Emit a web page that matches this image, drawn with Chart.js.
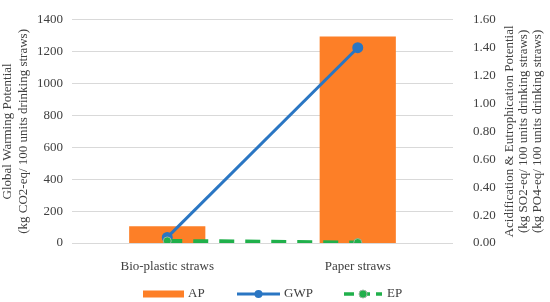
<!DOCTYPE html>
<html lang="en">
<head>
  <meta charset="UTF-8">
  <title>Straws impact</title>
  <script src="https://cdn.jsdelivr.net/npm/chart.js"></script>
  <style>
    body { margin: 0; padding: 0; background: #ffffff; }
    .chart-wrapper { width: 550px; height: 302px; position: relative; }
  </style>
</head>
<body>
  <div class="chart-wrapper">
    <canvas id="strawChart"></canvas>
  </div>

  <script>
    // data
    const categories = ['Bio-plastic straws', 'Paper straws'];
    const apValues = [0.12, 1.48];      // right axis
    const gwpValues = [35, 1225];       // left axis
    const epValues = [0.015, 0.003];    // right axis

    const leftTicks = [0, 200, 400, 600, 800, 1000, 1200, 1400];
    const rightTicks = [0, 0.2, 0.4, 0.6, 0.8, 1.0, 1.2, 1.4, 1.6];

    const leftTitle = ['Global Warming Potential', '(kg CO2-eq/ 100 units drinking straws)'];
    const rightTitle = ['Acidification & Eutrophication Potential', '(kg SO2-eq/ 100 units drinking straws)', '(kg PO4-eq/ 100 units drinking straws)'];

    const orange = '#FD7F27';
    const blue = '#2A76C3';
    const green = '#20B04B';
    const textColor = '#404040';
    const fontFamily = '"Liberation Serif", "Times New Roman", serif';

    // right axis title reads bottom-to-top, Chart.js would rotate it the other way
    const rightTitlePlugin = {
      id: 'rightTitle',
      afterDraw(chart) {
        const ctx = chart.ctx;
        const area = chart.chartArea;
        const cy = (area.top + area.bottom) / 2;
        ctx.save();
        ctx.font = '13px ' + fontFamily;
        ctx.fillStyle = textColor;
        ctx.textAlign = 'center';
        ctx.textBaseline = 'middle';
        rightTitle.forEach((line, i) => {
          ctx.save();
          ctx.translate(chart.scales.y1.left + 57 + i * 14, cy);
          ctx.rotate(-Math.PI / 2);
          ctx.fillText(line, 0, 0);
          ctx.restore();
        });
        ctx.restore();
      }
    };

    // legend at the bottom: box for AP, line+dot for GWP, dashed line+dot for EP
    const legendPlugin = {
      id: 'bottomLegend',
      afterDraw(chart) {
        const ctx = chart.ctx;
        const y = 294;
        ctx.save();
        ctx.font = '13px ' + fontFamily;
        ctx.fillStyle = textColor;
        ctx.textBaseline = 'middle';

        // AP
        ctx.fillStyle = orange;
        ctx.fillRect(143, y - 3.5, 41, 7);
        ctx.fillStyle = textColor;
        ctx.fillText('AP', 188, y);

        // GWP
        ctx.strokeStyle = blue;
        ctx.lineWidth = 3;
        ctx.beginPath(); ctx.moveTo(237, y); ctx.lineTo(280, y); ctx.stroke();
        ctx.fillStyle = blue;
        ctx.beginPath(); ctx.arc(258.5, y, 4, 0, Math.PI * 2); ctx.fill();
        ctx.fillStyle = textColor;
        ctx.fillText('GWP', 284, y);

        // EP
        ctx.strokeStyle = green;
        ctx.lineWidth = 3.5;
        ctx.setLineDash([10, 6]);
        ctx.beginPath(); ctx.moveTo(344, y); ctx.lineTo(382, y); ctx.stroke();
        ctx.setLineDash([]);
        ctx.fillStyle = green;
        ctx.strokeStyle = '#9cb8a2';
        ctx.lineWidth = 1;
        ctx.beginPath(); ctx.arc(363, y, 4, 0, Math.PI * 2); ctx.fill(); ctx.stroke();
        ctx.fillStyle = textColor;
        ctx.fillText('EP', 387, y);
        ctx.restore();
      }
    };

    const ctx = document.getElementById('strawChart').getContext('2d');
    new Chart(ctx, {
      type: 'bar',
      data: {
        labels: categories,
        datasets: [
          {
            type: 'line',
            label: 'EP',
            data: epValues,
            yAxisID: 'y1',
            borderColor: green,
            borderWidth: 4,
            borderDash: [15, 11],
            pointRadius: 4,
            pointBackgroundColor: green,
            pointBorderColor: '#9cb8a2',
            pointBorderWidth: 1,
            tension: 0,
            order: 0
          },
          {
            type: 'line',
            label: 'GWP',
            data: gwpValues,
            yAxisID: 'y',
            borderColor: blue,
            borderWidth: 3,
            pointRadius: 4,
            pointBackgroundColor: blue,
            pointBorderColor: blue,
            tension: 0,
            order: 1
          },
          {
            type: 'bar',
            label: 'AP',
            data: apValues,
            yAxisID: 'y1',
            backgroundColor: orange,
            barPercentage: 0.4,
            categoryPercentage: 1,
            order: 2
          }
        ]
      },
      options: {
        responsive: true,
        maintainAspectRatio: false,
        animation: false,
        layout: { padding: { top: 13, left: 0, right: 0, bottom: 0 } },
        plugins: {
          legend: { display: false },
          tooltip: { enabled: false }
        },
        scales: {
          x: {
            grid: { display: false },
            border: { display: false },
            ticks: { color: textColor, font: { family: fontFamily, size: 13 }, padding: 8, maxRotation: 0 },
            afterFit(scale) { scale.height = 59; }
          },
          y: {
            position: 'left',
            min: 0,
            max: 1400,
            afterBuildTicks(scale) { scale.ticks = leftTicks.map(v => ({ value: v })); },
            grid: { color: '#d9d9d9', lineWidth: 1, drawTicks: false },
            border: { display: false },
            ticks: {
              color: textColor,
              font: { family: fontFamily, size: 13 },
              padding: 9,
              callback: v => String(v)
            },
            title: {
              display: true,
              text: leftTitle,
              color: textColor,
              font: { family: fontFamily, size: 13 },
              padding: { top: 0, bottom: 0 }
            },
            afterFit(scale) { scale.width = 72; }
          },
          y1: {
            position: 'right',
            min: 0,
            max: 1.6,
            afterBuildTicks(scale) { scale.ticks = rightTicks.map(v => ({ value: v })); },
            grid: { display: false, drawOnChartArea: false },
            border: { display: false },
            ticks: {
              color: textColor,
              font: { family: fontFamily, size: 13 },
              padding: 12,
              callback: v => Number(v).toFixed(2)
            },
            afterFit(scale) { scale.width = 97; }
          }
        }
      },
      plugins: [rightTitlePlugin, legendPlugin]
    });
  </script>
</body>
</html>
